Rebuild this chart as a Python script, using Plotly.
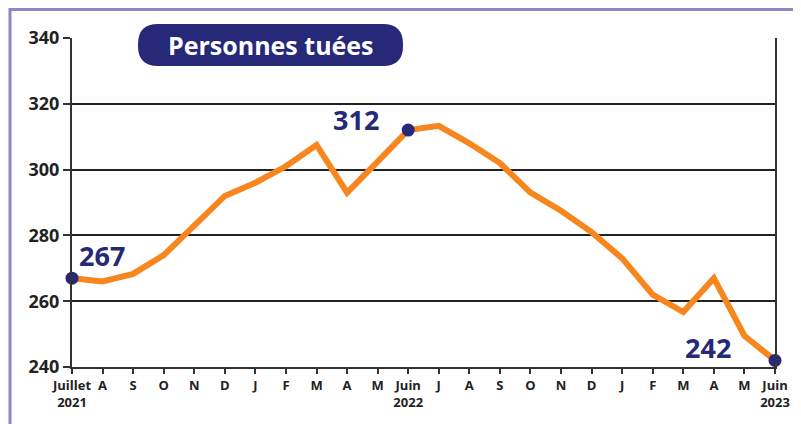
import plotly.graph_objects as go

months = ["Juillet<br>2021", "A", "S", "O", "N", "D", "J", "F", "M", "A", "M",
          "Juin<br>2022", "J", "A", "S", "O", "N", "D", "J", "F", "M", "A", "M",
          "Juin<br>2023"]
values = [267, 266, 268.3, 274, 283, 292, 296, 301, 307.5, 293, 302.4,
          312, 313.3, 308, 302, 293, 287.5, 281, 273, 262, 256.7, 267, 249.5, 242]
highlight_idx = [0, 11, 23]
highlight_labels = ["267", "312", "242"]
y_ticks = [240, 260, 280, 300, 320, 340]
title_text = "Personnes tuées"

# page has an 8px body margin; figure sized to fit the window
OFF = 8
W, H = 801 - OFF, 424 - OFF
plot_left, plot_right, plot_top, plot_bottom = 72, 775, 38, 367  # screen px
L = plot_left - OFF
T = plot_top - OFF
pw = plot_right - plot_left
ph = plot_bottom - plot_top
R = W - L - pw
B = H - T - ph

def px_x(px):  # screen px -> paper
    return (px - plot_left) / pw

def px_y(py):
    return (plot_bottom - py) / ph

x = list(range(len(values)))
navy = "#262878"
orange = "#f7861e"
font = "Open Sans"

fig = go.Figure()
fig.add_trace(go.Scatter(x=x, y=values, mode="lines",
                         line=dict(color=orange, width=6),
                         cliponaxis=False, hoverinfo="skip"))
fig.add_trace(go.Scatter(x=[x[i] for i in highlight_idx],
                         y=[values[i] for i in highlight_idx],
                         mode="markers", marker=dict(color=navy, size=13),
                         cliponaxis=False, hoverinfo="skip"))

# value labels (pixel offsets from the point)
offsets = [(30, 23), (-52, 11), (-67, 13)]
for (i, lab), (dx, dy) in zip(zip(highlight_idx, highlight_labels), offsets):
    fig.add_annotation(x=x[i], y=values[i], text=f"<b>{lab}</b>",
                       showarrow=False, xshift=dx, yshift=dy,
                       font=dict(family=font, size=27, color=navy))

# rounded title badge
bx0, bx1, by0, by1, r = 138, 403, 24, 66, 20
path = (f"M {px_x(bx0 + r)},{px_y(by0)} L {px_x(bx1 - r)},{px_y(by0)} "
        f"Q {px_x(bx1)},{px_y(by0)} {px_x(bx1)},{px_y(by0 + r)} "
        f"L {px_x(bx1)},{px_y(by1 - r)} "
        f"Q {px_x(bx1)},{px_y(by1)} {px_x(bx1 - r)},{px_y(by1)} "
        f"L {px_x(bx0 + r)},{px_y(by1)} "
        f"Q {px_x(bx0)},{px_y(by1)} {px_x(bx0)},{px_y(by1 - r)} "
        f"L {px_x(bx0)},{px_y(by0 + r)} "
        f"Q {px_x(bx0)},{px_y(by0)} {px_x(bx0 + r)},{px_y(by0)} Z")
fig.add_shape(type="path", path=path, xref="paper", yref="paper",
              fillcolor=navy, line=dict(color=navy, width=0), layer="above")
fig.add_annotation(x=px_x((bx0 + bx1) / 2), y=px_y((by0 + by1) / 2),
                   xref="paper", yref="paper", text=f"<b>{title_text}</b>",
                   showarrow=False, font=dict(family=font, size=25, color="white"),
                   xanchor="center", yanchor="middle")

# outer lavender frame (top and left)
frame = "#8c88c2"
fig.add_shape(type="line", xref="paper", yref="paper",
              x0=px_x(9), x1=px_x(W + OFF + 5), y0=px_y(9.5), y1=px_y(9.5),
              line=dict(color=frame, width=3))
fig.add_shape(type="line", xref="paper", yref="paper",
              x0=px_x(10), x1=px_x(10), y0=px_y(8), y1=px_y(H + OFF + 5),
              line=dict(color=frame, width=3))

fig.update_layout(
    width=W, height=H,
    margin=dict(l=L, r=R, t=T, b=B, autoexpand=False),
    paper_bgcolor="white", plot_bgcolor="white",
    showlegend=False,
    xaxis=dict(range=[0, 23], tickmode="array", tickvals=x, ticktext=months,
               automargin=False,
               showgrid=False, zeroline=False, showline=True,
               linecolor="#333", linewidth=2, mirror=False,
               ticks="outside", ticklen=5, tickwidth=1.5, tickcolor="#333",
               tickangle=0,
               tickfont=dict(family=font, size=13, color="#222", weight="bold")),
    yaxis=dict(range=[240, 340], tickmode="array", tickvals=y_ticks,
               automargin=False,
               showgrid=True, gridcolor="#222", gridwidth=1.5,
               zeroline=False, showline=True, linecolor="#333", linewidth=2,
               mirror=True,
               ticks="outside", ticklen=7, tickwidth=1.5, tickcolor="#333",
               tickfont=dict(family=font, size=18, color="#222", weight="bold")),
)

fig.write_html("out.html")
